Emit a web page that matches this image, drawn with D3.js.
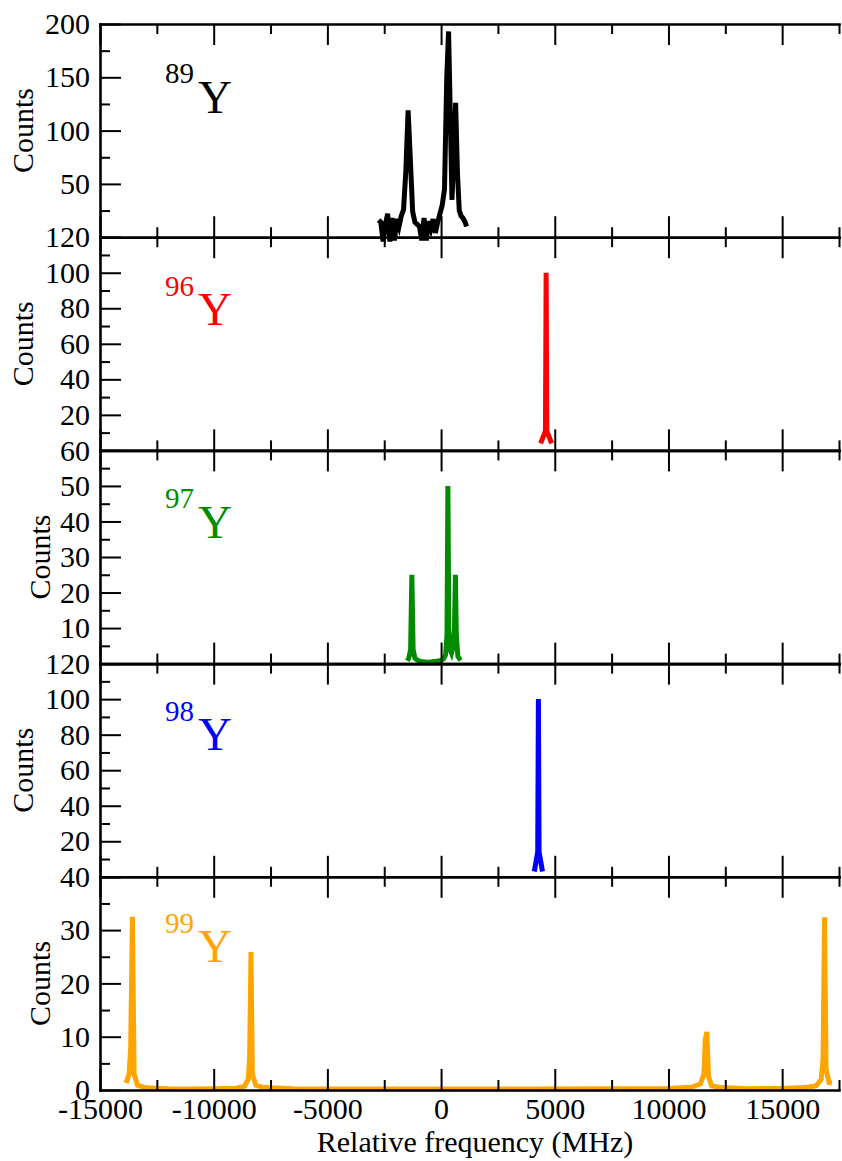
<!DOCTYPE html>
<html>
<head>
<meta charset="utf-8">
<script src="https://cdn.jsdelivr.net/npm/d3@7"></script>
<style>
  body { margin: 0; background: #fff; }
  text { font-family: "Liberation Serif", "Times New Roman", serif; }
</style>
</head>
<body>
<svg id="chart" width="842" height="1161"></svg>
<script>
// Isotopes shown, one stacked panel each (top to bottom)
const isotopes = ["89", "96", "97", "98", "99"];
const colors = ["#000000", "#ff0000", "#008b00", "#0000ff", "#ffa500"];
const yMaxima = [200, 120, 60, 120, 40];
const yMajorSteps = [50, 20, 10, 20, 10];

// Shared frequency axis ticks (MHz)
const xMajorTicks = [-15000, -10000, -5000, 0, 5000, 10000, 15000];
const xMinorTicks = [-12500, -7500, -2500, 2500, 7500, 12500, 17500];

// 89Y measured spectrum
const freq89 = [-2750, -2650, -2550, -2450, -2350, -2250, -2150, -2050, -1950, -1850,
  -1750, -1650, -1550, -1450, -1350, -1250, -1150, -1050, -950, -850,
  -750, -650, -550, -450, -350, -250, -150, -50, 50, 150,
  250, 330, 410, 480, 560, 640, 720, 800, 880, 960, 1060, 1120];
const counts89 = [16, 14, -4, 12, 22, -4, 18, -3, 17, 10,
  20, 26, 62, 119, 72, 24, 14, 12, 10, -3,
  18, -3, 15, 8, 17, 4, 14, 22, 30, 45,
  150, 193, 110, 35, 80, 126, 60, 25, 20, 18, 14, 10];

// 96Y
const freq96 = [4380, 4590, 4620, 4650, 4860];
const counts96 = [4, 11, 100, 11, 4];

// 97Y
const freq97 = [-1490, -1420, -1340, -1285, -1230, -1150, -1000, -800, -600, -400,
  -200, 0, 100, 200, 260, 300, 340, 400, 460, 540, 590, 630, 670, 740, 860];
const counts97 = [0.8, 1.5, 4, 25, 4, 1.5, 0.8, 0.5, 0.4, 0.5,
  0.7, 0.9, 1.3, 2.5, 8, 50, 9, 4, 3, 5, 10, 25, 8, 2, 0.9];

// 98Y
const freq98 = [4100, 4250, 4280, 4310, 4460];
const counts98 = [3, 14, 100, 14, 3];

// 99Y
const freq99 = [-13850, -13720, -13650, -13575, -13500, -13350, -13000, -12000, -11000, -10000,
  -9000, -8650, -8480, -8420, -8360, -8300, -8150, -7800, -6500, -4000,
  0, 4000, 8000, 10000, 11000, 11400, 11560, 11620, 11690, 11760,
  11900, 12300, 13500, 15000, 16000, 16500, 16720, 16800, 16865, 16930, 17060, 17190];
const counts99 = [1.3, 3, 8, 32.5, 3, 0.9, 0.4, 0.25, 0.2, 0.25,
  0.35, 0.7, 2, 6, 25.9, 3, 0.9, 0.45, 0.25, 0.2,
  0.2, 0.2, 0.25, 0.3, 0.5, 1.1, 3, 9.5, 10.9, 2.5,
  0.8, 0.45, 0.25, 0.3, 0.45, 0.8, 2, 6, 32.4, 4, 1.4, 1.3];

const series = [
  [freq89, counts89],
  [freq96, counts96],
  [freq97, counts97],
  [freq98, counts98],
  [freq99, counts99]
];

const svg = d3.select("#chart");
const plotLeft = 100, plotRight = 839, plotTop = 24, plotBottom = 1090;
const panelH = (plotBottom - plotTop) / isotopes.length;
const fontSize = 30;
const majorLen = 21, minorLen = 10;

const x = d3.scaleLinear().domain([-15000, 17500]).range([plotLeft, plotRight]);

function styleAxis(sel) {
  sel.attr("font-size", fontSize)
     .attr("font-family", "Liberation Serif, Times New Roman, serif");
  sel.select(".domain").attr("stroke", "#000").attr("stroke-width", 2.6).attr("stroke-linecap", "square");
  sel.selectAll(".tick line").attr("stroke", "#000").attr("stroke-width", 2);
  sel.selectAll(".tick text").attr("fill", "#000");
}

isotopes.forEach((iso, i) => {
  const y0 = plotTop + i * panelH;
  const y1 = y0 + panelH;
  const yMax = yMaxima[i];
  const step = yMajorSteps[i];
  const y = d3.scaleLinear().domain([0, yMax]).range([y1, y0]);
  const g = svg.append("g");
  const last = i === isotopes.length - 1;

  // spectrum trace
  const [fr, ct] = series[i];
  g.append("path")
    .datum(d3.zip(fr, ct))
    .attr("fill", "none")
    .attr("stroke", colors[i])
    .attr("stroke-width", 5)
    .attr("stroke-linejoin", "miter")
    .attr("stroke-miterlimit", 4)
    .attr("d", d3.line().x(d => x(d[0])).y(d => y(d[1])));

  // left axis, ticks pointing inward; the zero label sits under the
  // top label of the panel below, so only the last panel prints it
  const majors = d3.range(0, yMax + 0.001, step);
  const minors = d3.range(step / 2, yMax, step);
  g.append("g")
    .attr("transform", `translate(${plotLeft},0)`)
    .call(d3.axisLeft(y).tickValues(majors).tickSize(-majorLen).tickSizeOuter(0).tickPadding(10)
      .tickFormat(d => (d === 0 && !last) ? "" : String(d)))
    .call(styleAxis);
  g.append("g")
    .attr("transform", `translate(${plotLeft},0)`)
    .call(d3.axisLeft(y).tickValues(minors).tickSize(-minorLen).tickSizeOuter(0).tickFormat(""))
    .call(styleAxis)
    .call(s => s.select(".domain").remove());

  // bottom axis (ticks up)
  g.append("g")
    .attr("transform", `translate(0,${y1})`)
    .call(d3.axisBottom(x).tickValues(xMajorTicks).tickSize(-majorLen).tickSizeOuter(0).tickPadding(8)
      .tickFormat(d => last ? String(d) : ""))
    .call(styleAxis);
  g.append("g")
    .attr("transform", `translate(0,${y1})`)
    .call(d3.axisBottom(x).tickValues(xMinorTicks).tickSize(-minorLen).tickSizeOuter(0).tickFormat(""))
    .call(styleAxis)
    .call(s => s.select(".domain").remove());

  // top axis (ticks down)
  g.append("g")
    .attr("transform", `translate(0,${y0})`)
    .call(d3.axisTop(x).tickValues(xMajorTicks).tickSize(-majorLen).tickSizeOuter(0).tickFormat(""))
    .call(styleAxis);
  g.append("g")
    .attr("transform", `translate(0,${y0})`)
    .call(d3.axisTop(x).tickValues(xMinorTicks).tickSize(-minorLen).tickSizeOuter(0).tickFormat(""))
    .call(styleAxis)
    .call(s => s.select(".domain").remove());

  // y axis title
  const wide = String(yMax).length > 2;
  const cy = (y0 + y1) / 2;
  const tx = wide ? 33 : 50;
  g.append("text")
    .attr("transform", `translate(${tx},${cy}) rotate(-90)`)
    .attr("text-anchor", "middle")
    .attr("font-size", fontSize)
    .text("Counts");

  // isotope label
  const supBase = y0 + 59.3 - 0.7 * i;
  const yBase = y0 + 88.7 - 0.8 * i;
  g.append("text")
    .attr("x", 165).attr("y", supBase)
    .attr("font-size", 29)
    .attr("fill", colors[i])
    .text(iso);
  g.append("text")
    .attr("x", 198).attr("y", yBase)
    .attr("font-size", 47)
    .attr("fill", colors[i])
    .text("Y");
});

// x axis title
svg.append("text")
  .attr("x", 475).attr("y", 1152)
  .attr("text-anchor", "middle")
  .attr("font-size", fontSize)
  .text("Relative frequency (MHz)");
</script>
</body>
</html>
